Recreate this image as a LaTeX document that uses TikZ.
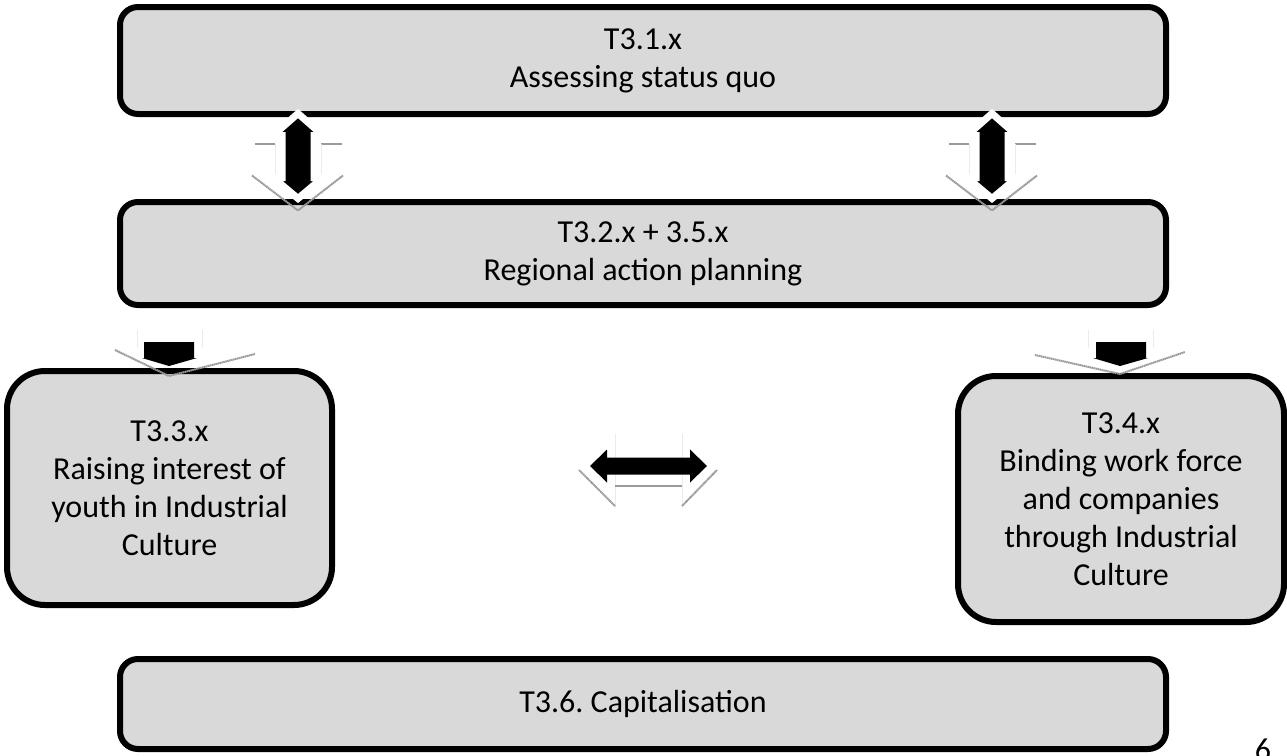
\documentclass[tikz,border=0pt]{standalone}
\usepackage{fontspec}
\setmainfont{Carlito}
\frenchspacing
\definecolor{boxgray}{HTML}{D9D9D9}
\definecolor{shadowgray}{HTML}{9A9A9A}
\tikzset{
  taskbox/.style={draw=black, fill=boxgray, line width=6pt, rectangle, align=center,
    font=\fontsize{32}{38}\selectfont, inner sep=4pt},
  widebox/.style={taskbox, minimum width=1046pt, rounded corners=18pt},
  sidebox/.style={taskbox, rounded corners=38pt},
  blockarrow/.style={fill=black, draw=white, line width=7pt, line join=miter},
  plainarrow/.style={fill=black, draw=none},
  shadowline/.style={draw=shadowgray, line width=2pt, dash pattern=on 1.5pt off 0.5pt},
  faintline/.style={draw=black!8, line width=0.8pt},
  vdarrow/.pic={
    \draw[shadowline] (-43,-12) -- (-23,-12);
    \draw[shadowline] (23,-12) -- (44,-12);
    \draw[faintline] (-23,-12) -- (-23,20);
    \draw[faintline] (23,-12) -- (23,20);
    \draw[shadowline] (-46,20) -- (0,55) -- (45,20);
    \path[blockarrow] (0,-42) -- (25,-20) -- (16,-20) -- (16,22) -- (25,22) -- (0,43)
      -- (-25,22) -- (-16,22) -- (-16,-20) -- (-25,-20) -- cycle;
  },
  hdarrow/.pic={
    \draw[faintline] (-33,-32) -- (-33,42);
    \draw[faintline] (34,-32) -- (34,42);
    \draw[shadowline] (-33,20) -- (34,20);
    \draw[shadowline] (-69,4) -- (-33,40);
    \draw[shadowline] (69,4) -- (34,40);
    \path[plainarrow] (-58,0) -- (-41,-16.5) -- (-41,-8.5) -- (42,-8.5) -- (42,-16.5) -- (59,0)
      -- (42,16.5) -- (42,8.5) -- (-41,8.5) -- (-41,16.5) -- cycle;
  },
}
\begin{document}
\begin{tikzpicture}[x=1pt,y=-1pt]
\useasboundingbox (0,0) rectangle (1287,755);

\node[widebox, minimum height=107pt] (b1) at (643,60.5) {T3.1.x\\Assessing status quo};
\node[widebox, minimum height=103pt] (b2) at (643,253.5) {T3.2.x + 3.5.x\\Regional action planning};
\node[sidebox, minimum width=325pt, minimum height=234pt] (b3) at (169.5,488)
  {T3.3.x\\Raising interest of\\youth in Industrial\\Culture};
\node[sidebox, minimum width=326pt, minimum height=246pt] (b4) at (1121,499)
  {T3.4.x\\Binding work force\\and companies\\through Industrial\\Culture};
\node[widebox, minimum height=90pt] (b5) at (643,704) {T3.6. Capitalisation};

% vertical double arrows between b1 and b2
\pic at (298,155.5) {vdarrow};
\pic at (992,155.5) {vdarrow};

% down arrow to left box
\draw[faintline] (137,330) -- (137,348);
\draw[faintline] (202,330) -- (202,348);
\draw[shadowline] (115,350) -- (169,376) -- (255,354);
\path[plainarrow] (144,342) -- (194,342) -- (194,358) -- (197,358) -- (169,366)
  -- (142,358) -- (144,358) -- cycle;

% down arrow to right box
\draw[faintline] (1088,330) -- (1088,348);
\draw[faintline] (1153,330) -- (1153,348);
\draw[shadowline] (1035,355) -- (1120,374) -- (1185,352);
\path[plainarrow] (1096,342) -- (1146,342) -- (1146,358) -- (1148,358) -- (1120,366)
  -- (1093,358) -- (1096,358) -- cycle;

% horizontal double arrow between b3 and b4
\pic at (648,466) {hdarrow};

\node[font=\fontsize{32}{38}\selectfont, anchor=base] (pg) at (1263,760) {6};
\end{tikzpicture}
\end{document}
